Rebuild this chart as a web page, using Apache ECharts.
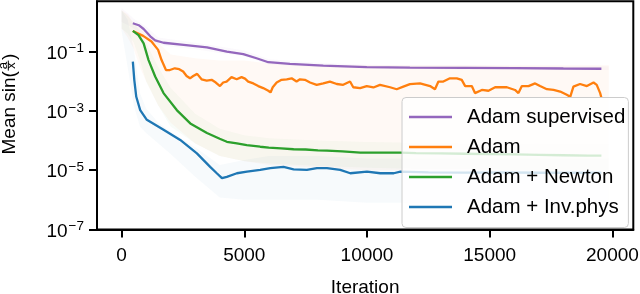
<!DOCTYPE html>
<html><head><meta charset="utf-8">
<script src="https://cdn.jsdelivr.net/npm/echarts@6/dist/echarts.min.js"></script>
<style>html,body{margin:0;padding:0;background:#fff}#c{width:640px;height:294px}</style>
</head><body><div id="c"></div>
<script>
const FONT = '"Liberation Sans", Arial, Helvetica, sans-serif';

// ---- tick labels / categories ----
const xTickValues = [0, 5000, 10000, 15000, 20000];
const yTickValues = [1e-7, 1e-5, 1e-3, 1e-1];
const seriesNames = ['Adam supervised', 'Adam', 'Adam + Newton', 'Adam + Inv.phys'];
const seriesColors = ['#9467bd', '#ff7f0e', '#2ca02c', '#1f77b4'];

// ---- series values: [iteration, mean sin(a/x)] ----
const supervised = [[460,0.91],[700,0.78],[900,0.58],[1170,0.33],[1370,0.24],[1710,0.20],[2530,0.17],[3480,0.14],[4290,0.10],[4960,0.083],[5500,0.060],[5980,0.044],[6860,0.039],[8220,0.034],[9990,0.030],[11750,0.029],[14000,0.0285],[16000,0.028],[18000,0.027],[19550,0.0265]];

const adam = [[460,0.50],[880,0.34],[1220,0.22],[1490,0.115],[1630,0.052],[1810,0.024],[1970,0.024],[2170,0.0275],[2350,0.0257],[2510,0.0214],[2650,0.0151],[2790,0.0126],[2920,0.0151],[3080,0.0178],[3260,0.0117],[3470,0.0105],[3670,0.0112],[3840,0.0091],[4010,0.0069],[4140,0.0091],[4280,0.0098],[4480,0.0138],[4690,0.0117],[4890,0.0138],[5030,0.0123],[5160,0.0098],[5370,0.0085],[5570,0.0069],[5770,0.0059],[5980,0.0048],[6070,0.0042],[6160,0.0063],[6320,0.0091],[6520,0.0112],[6730,0.0117],[6930,0.0126],[7130,0.0098],[7270,0.0117],[7470,0.0112],[7680,0.0091],[7950,0.0076],[8220,0.0085],[8490,0.0098],[8770,0.0081],[9030,0.0076],[9310,0.0098],[9440,0.0063],[9720,0.0059],[9990,0.0069],[10260,0.0062],[10530,0.0076],[10940,0.0063],[11210,0.0054],[11480,0.0066],[11750,0.0080],[12160,0.0085],[12570,0.0069],[12770,0.0054],[12910,0.0098],[13110,0.0098],[13380,0.0126],[13660,0.0126],[13860,0.0112],[14000,0.0069],[14270,0.0069],[14400,0.0040],[14680,0.0051],[14950,0.0048],[15220,0.0063],[15420,0.0063],[15700,0.0063],[16030,0.0051],[16170,0.0040],[16310,0.0069],[16580,0.0069],[16850,0.0085],[17050,0.0069],[17330,0.0054],[17600,0.0051],[17870,0.0045],[18140,0.0035],[18280,0.0030],[18410,0.0066],[18680,0.0081],[18960,0.0069],[19230,0.0091],[19360,0.0076],[19500,0.0040],[19550,0.0028]];

const newton = [[460,0.50],[690,0.36],[900,0.19],[1100,0.052],[1370,0.0145],[1710,0.0040],[2250,0.00107],[2800,3.8e-4],[3480,1.8e-4],[4000,1.15e-4],[4290,9.1e-5],[4700,8.0e-5],[5100,7.0e-5],[5650,6.2e-5],[6000,5.8e-5],[6500,5.5e-5],[7010,5.1e-5],[7500,5.0e-5],[8000,4.7e-5],[8370,4.6e-5],[9000,4.3e-5],[9730,3.9e-5],[10500,3.9e-5],[11360,3.9e-5],[12000,3.8e-5],[13000,3.7e-5],[14000,3.6e-5],[15000,3.5e-5],[16000,3.4e-5],[17000,3.3e-5],[18000,3.2e-5],[19000,3.1e-5],[19550,3.1e-5]];

const invphys = [[460,0.046],[520,0.011],[600,0.0030],[760,1.07e-3],[1030,5.0e-4],[1710,2.3e-4],[2390,1.05e-4],[3070,3.7e-5],[3610,1.3e-5],[3880,7.9e-6],[4090,5.4e-6],[4290,6.0e-6],[4700,7.9e-6],[5110,8.9e-6],[5650,1.02e-5],[6060,1.17e-5],[6600,1.3e-5],[7010,1.07e-5],[7550,1.02e-5],[7960,1.17e-5],[8370,1.17e-5],[8910,1.02e-5],[9320,7.9e-6],[10000,8.9e-6],[10540,7.9e-6],[11090,7.9e-6],[11360,8.9e-6],[12500,8.5e-6],[14000,8.3e-6],[15500,8.5e-6],[17000,8.2e-6],[18500,8.3e-6],[19550,8.2e-6]];

// ---- faint spread bands: [iteration, low, high] ----
const supervisedBand = [[0,1.0,3.0],[250,0.8,2.0],[500,0.6,1.3],[1000,0.25,0.7],[1500,0.17,0.3],[2000,0.15,0.26],[3000,0.12,0.2],[4000,0.09,0.15],[5000,0.07,0.11],[6000,0.037,0.055],[8000,0.03,0.042],[10000,0.027,0.036],[12000,0.026,0.034],[14000,0.025,0.034],[16000,0.025,0.033],[18000,0.024,0.032],[19850,0.024,0.032]];
const adamBand = [[0,0.6,2.5],[250,0.3,1.8],[500,0.12,0.9],[750,0.03,0.6],[1000,0.01,0.4],[1500,1.5e-3,0.2],[2000,4e-4,0.08],[3000,8e-5,0.06],[4000,3e-5,0.05],[5000,2e-5,0.05],[6000,1.5e-5,0.04],[8000,1.2e-5,0.035],[10000,1.0e-5,0.035],[12000,1e-5,0.035],[14000,1e-5,0.035],[16000,1e-5,0.035],[18000,1e-5,0.035],[19850,1e-5,0.035]];
const newtonBand = [[0,0.6,2.5],[250,0.4,1.6],[500,0.2,0.9],[750,0.05,0.5],[1000,0.01,0.2],[1500,1.5e-3,0.03],[2000,3e-4,6e-3],[3000,8e-5,8e-4],[4000,3e-5,2.5e-4],[5000,2e-5,1.5e-4],[6000,1.7e-5,1.2e-4],[8000,1.4e-5,1e-4],[10000,1.2e-5,9e-5],[12000,1.1e-5,8.5e-5],[14000,1.1e-5,8e-5],[16000,1e-5,8e-5],[18000,1e-5,7.5e-5],[19850,1e-5,7.5e-5]];
const invphysBand = [[0,0.5,2.5],[250,0.03,1.2],[500,1.5e-3,0.12],[750,3e-4,4e-3],[1000,1.8e-4,1.2e-3],[1500,8e-5,4e-4],[2000,3.5e-5,2e-4],[3000,6e-6,6e-5],[4000,1.2e-6,1.5e-5],[5000,1.0e-6,2.2e-5],[6000,1.0e-6,3e-5],[8000,1.0e-6,3e-5],[10000,8e-7,2.5e-5],[12000,8e-7,2.5e-5],[14000,8e-7,2.5e-5],[16000,8e-7,2.5e-5],[18000,8e-7,2.5e-5],[19850,8e-7,2.5e-5]];

const lines = [supervised, adam, newton, invphys];
const bands = [supervisedBand, adamBand, newtonBand, invphysBand];
const bandFills = ['rgba(148,103,189,0.04)','rgba(255,127,14,0.045)','rgba(44,160,44,0.03)','rgba(31,119,180,0.035)'];

function bandSeries(band, fill) {
  return {
    type: 'custom', silent: true, z: 1, clip: true,
    data: band,
    encode: { x: 0, y: [1, 2] },
    renderItem: function (params, api) {
      if (params.dataIndex !== 0) return null;
      const up = band.map(b => api.coord([b[0], b[2]]));
      const lo = band.map(b => api.coord([b[0], b[1]])).reverse();
      return { type: 'polygon', shape: { points: up.concat(lo) }, style: { fill: fill } };
    }
  };
}

const series = [];
bands.forEach((b, i) => series.push(bandSeries(b, bandFills[i])));
lines.forEach((d, i) => series.push({
  type: 'line', name: seriesNames[i], data: d, showSymbol: false, symbol: 'none',
  color: seriesColors[i], lineStyle: { width: 2.3, color: seriesColors[i] }, z: 2
}));

// y label "Mean sin(a/x)" built as real text
const ctx = document.createElement('canvas').getContext('2d');
ctx.font = '19px "Liberation Sans"';
const w1 = ctx.measureText('Mean sin(').width;
const fw = 11;

const chart = echarts.init(document.getElementById('c'), null, { renderer: 'canvas' });
chart.setOption({
  animation: false,
  grid: { left: 97, right: 6.7, top: 1.3, bottom: 64.5, containLabel: false, outerBoundsMode: 'none',
          show: true, borderColor: '#000', borderWidth: 2, backgroundColor: 'transparent' },
  xAxis: {
    type: 'value', min: -1000, max: 20850,
    splitLine: { show: false },
    axisLine: { show: true, onZero: false, lineStyle: { color: '#000', width: 2 } },
    axisTick: { show: true, length: 8, customValues: xTickValues, lineStyle: { color: '#000', width: 2 } },
    axisLabel: { customValues: xTickValues, margin: 17, color: '#000', fontSize: 19, fontFamily: FONT, formatter: v => String(v) },
    name: 'Iteration', nameLocation: 'middle', nameGap: 49,
    nameTextStyle: { color: '#000', fontSize: 19, fontFamily: FONT }
  },
  yAxis: {
    type: 'log', logBase: 10, min: 1e-7, max: 5,
    splitLine: { show: false }, minorTick: { show: false },
    axisLine: { show: true, onZero: false, lineStyle: { color: '#000', width: 2 } },
    axisTick: { show: true, length: 8, customValues: yTickValues, lineStyle: { color: '#000', width: 2 } },
    axisLabel: {
      customValues: yTickValues, margin: 13,
      formatter: function (v) {
        const e = Math.round(Math.log10(v));
        return '{b|10}{s|' + (e < 0 ? '\u2212' : '') + Math.abs(e) + '}';
      },
      rich: {
        b: { fontSize: 19, fontFamily: FONT, color: '#000', lineHeight: 20, padding: [4, 0, 0, 0] },
        s: { fontSize: 13.5, fontFamily: FONT, color: '#000', lineHeight: 14, verticalAlign: 'top', padding: [0, 0, 0, 1] }
      }
    }
  },
  legend: {
    data: seriesNames, orient: 'vertical', left: 402, top: 97.5, z: 10,
    icon: 'rect', itemWidth: 43, itemHeight: 2.5, itemGap: 9,
    padding: [9, 3, 10, 7],
    backgroundColor: 'rgba(255,255,255,0.8)', borderColor: '#cccccc', borderWidth: 1, borderRadius: 4,
    textStyle: { fontFamily: FONT, fontSize: 20.5, color: '#000', lineHeight: 20, padding: [0, 0, 0, 10] }
  },
  graphic: [{
    type: 'group', x: 17, y: 154.5, rotation: Math.PI / 2, silent: true,
    children: [
      { type: 'text', x: 0, y: -6.8, style: { text: 'Mean sin(', fontSize: 19, fontFamily: FONT, fill: '#000', align: 'left', verticalAlign: 'middle' } },
      { type: 'text', x: w1 + fw / 2, y: -14, style: { text: 'a', fontSize: 13.3, fontFamily: FONT, fill: '#000', align: 'center', verticalAlign: 'middle' } },
      { type: 'line', shape: { x1: w1 + 0.5, y1: -8.7, x2: w1 + fw - 0.5, y2: -8.7 }, style: { stroke: '#000', lineWidth: 1 } },
      { type: 'text', x: w1 + fw / 2, y: -5.2, style: { text: 'x', fontSize: 13.3, fontFamily: FONT, fill: '#000', align: 'center', verticalAlign: 'middle' } },
      { type: 'text', x: w1 + fw, y: -6.8, style: { text: ')', fontSize: 19, fontFamily: FONT, fill: '#000', align: 'left', verticalAlign: 'middle' } }
    ]
  }],
  series: series
});
</script></body></html>
